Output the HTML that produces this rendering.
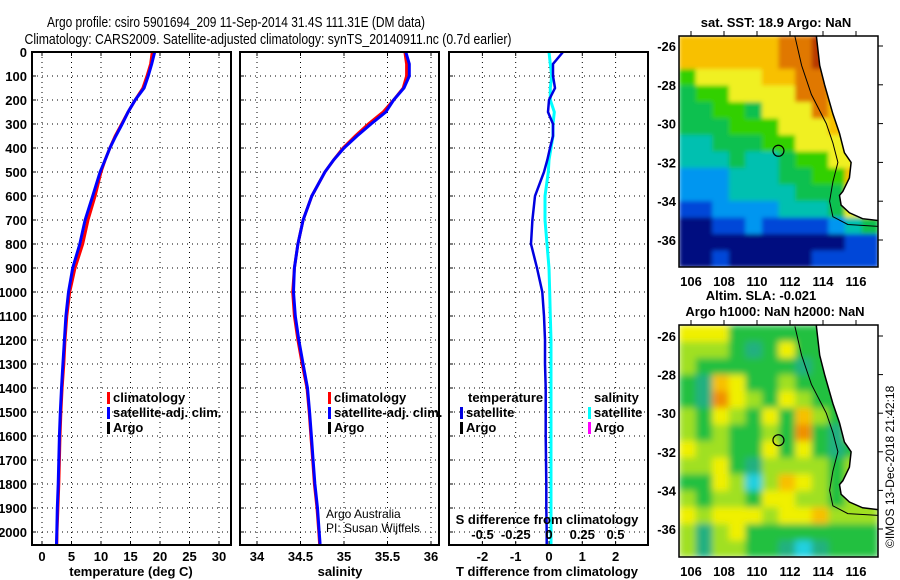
<!DOCTYPE html>
<html><head><meta charset="utf-8"><style>
html,body{margin:0;padding:0;background:#fff;}
svg{display:block;font-family:"Liberation Sans",sans-serif;}
.b{font-weight:bold;font-size:13px;}
</style></head><body>
<svg id="s" width="900" height="580" viewBox="0 0 900 580">
<rect width="900" height="580" fill="#fff"/>
<text x="236" y="27" text-anchor="middle" font-size="15" textLength="378" lengthAdjust="spacingAndGlyphs">Argo profile: csiro 5901694_209 11-Sep-2014 31.4S 111.31E (DM data)</text>
<text x="268" y="44" text-anchor="middle" font-size="15" textLength="487" lengthAdjust="spacingAndGlyphs">Climatology: CARS2009. Satellite-adjusted climatology: synTS_20140911.nc (0.7d earlier)</text>
<g id="g"></g>
</svg>
<script>
// ---- data ----
const depths   = [0,50,100,150,200,250,300,350,400,450,500,600,700,800,900,1000,1100,1200,1300,1400,1500,1600,1700,1800,1900,2000,2050];
const tempClim = [18.7,18.4,17.8,17.1,15.8,14.6,13.5,12.4,11.5,10.7,10.0,9.0,7.8,6.9,5.6,4.7,4.2,3.9,3.7,3.4,3.2,3.05,2.95,2.85,2.7,2.55,2.5];
const tempSat  = [19.1,18.6,18.0,17.3,15.8,14.6,13.6,12.5,11.5,10.7,9.85,8.6,7.3,6.4,5.2,4.5,4.05,3.8,3.55,3.3,3.1,2.95,2.85,2.75,2.6,2.5,2.45];
const salClim  = [35.70,35.72,35.72,35.68,35.57,35.45,35.28,35.13,34.99,34.88,34.78,34.63,34.53,34.47,34.43,34.41,34.43,34.47,34.52,34.575,34.60,34.62,34.64,34.66,34.69,34.71,34.72];
const salSat   = [35.71,35.75,35.75,35.69,35.57,35.48,35.31,35.15,35.00,34.88,34.78,34.63,34.53,34.47,34.43,34.42,34.44,34.48,34.53,34.58,34.605,34.625,34.645,34.665,34.695,34.715,34.725];
const tDiff    = [0.42,0.12,0.12,0.18,0.0,-0.03,0.12,0.12,0.03,-0.05,-0.15,-0.42,-0.5,-0.54,-0.36,-0.2,-0.15,-0.12,-0.12,-0.1,-0.1,-0.1,-0.09,-0.08,-0.08,-0.07,-0.07];
const sDiff    = [0.0,0.01,0.02,0.01,0.01,0.04,0.03,0.03,0.015,0.0,-0.005,-0.03,-0.03,-0.015,0.0,0.005,0.01,0.015,0.015,0.015,0.015,0.015,0.015,0.015,0.015,0.015,0.015];
const depthTicks = [0,100,200,300,400,500,600,700,800,900,1000,1100,1200,1300,1400,1500,1600,1700,1800,1900,2000];
const tempTicks = [0,5,10,15,20,25,30];
const salTicks = [34,34.5,35,35.5,36];
const salTickLabels = ["34","34.5","35","35.5","36"];
const tdTicks = [-2,-1,0,1,2];
const sdTicks = [-0.5,-0.25,0,0.25,0.5];
const sdTickLabels = ["-0.5","-0.25","0","0.25","0.5"];
const lonTicks = [106,108,110,112,114,116];
const latTicks = [-26,-28,-30,-32,-34,-36];
// SST map grid (class 0..9, -1 land) rows north->south
const sstGrid = [
[7,7,7,7,7,7,8,8,9,-1,-1,-1],
[7,7,7,7,7,7,8,8,9,-1,-1,-1],
[5,6,6,6,6,7,7,8,8,7,-1,-1],
[4,5,5,6,6,6,6,8,8,7,-1,-1],
[4,4,5,5,4,6,6,6,8,7,-1,-1],
[4,4,4,5,5,5,6,6,6,7,7,-1],
[3,3,4,4,4,5,5,6,6,6,7,-1],
[3,3,3,4,3,3,4,5,5,6,6,-1],
[2,2,2,3,3,3,4,4,5,5,7,-1],
[2,2,2,3,3,3,3,4,4,4,6,-1],
[1,1,2,2,2,2,3,3,3,4,6,-1],
[0,0,1,1,2,1,1,1,1,2,3,4],
[0,0,0,0,0,0,0,0,0,0,1,1],
[0,0,1,0,0,0,0,0,1,1,1,1]];
const slaGrid = [
[4,4,4,2,2,2,2,2,2,-1,-1,-1],
[3,3,3,2,1,2,4,2,2,-1,-1,-1],
[3,2,2,2,2,2,2,1,2,2,-1,-1],
[2,1,5,4,2,2,3,2,2,2,-1,-1],
[2,1,6,4,3,2,4,3,2,2,-1,-1],
[3,2,4,3,2,4,2,5,3,2,3,-1],
[3,2,3,2,2,3,2,6,2,1,3,-1],
[4,3,3,2,2,4,2,4,2,1,2,-1],
[3,3,4,2,1,3,3,3,3,2,3,-1],
[2,2,4,3,0,3,5,4,3,2,3,-1],
[3,2,3,3,2,4,4,3,3,2,3,-1],
[4,3,4,4,4,3,4,4,5,3,3,3],
[3,1,3,4,2,2,2,2,2,2,2,2],
[3,1,3,3,2,2,1,0,1,2,2,2]];
const coastLon = [113.6,113.8,114.1,114.6,115.0,115.3,115.7,115.6,115.2,115.0,115.1,115.6,116.4,117.4];
const coastLat = [-25.5,-27,-28,-29.5,-30.5,-31.5,-32.0,-32.8,-33.5,-33.7,-34.2,-34.6,-34.9,-35.0];
const isoLon = [112.3,112.7,113.3,114.2,114.6,114.9,114.6,114.4,114.6,115.5,117.4];
const isoLat = [-25.5,-27,-28.5,-30,-31,-32,-33,-34,-34.8,-35.2,-35.3];
const argoLon = 111.3, argoLat = -31.4;

const sstColors = ["#000c80","#0046d8","#0096f0","#00c0b0","#10c050","#30d000","#f0f020","#f8c000","#e07800","#b83800"];
const slaColors = ["#20d0e0","#20b080","#20c040","#a0e020","#f0f000","#f8c000","#f09000"];

const NS="http://www.w3.org/2000/svg";
const G=document.getElementById('g');
function mk(tag,attrs,parent){const e=document.createElementNS(NS,tag);for(const k in attrs)e.setAttribute(k,attrs[k]);(parent||G).appendChild(e);return e;}
function txt(x,y,s,attrs,parent){const e=mk('text',Object.assign({x:x,y:y},attrs||{}),parent);e.textContent=s;return e;}

const yD = d => 52 + d*0.24;
const PT=52, PB=545;
const xT = t => 42 + 5.9*t;
const xS = s => 257 + 87*(s-34);
const xTD = v => 549 + 33.3*v;
const xSD = v => 549 + 133*v;

function panel(x0,x1,name){
  const g=mk('g',{});
  
  
  return g;
}
function hgrid(g,x0,x1){
  depthTicks.forEach(d=>{
    const l=mk('line',{x1:x0,x2:x1,y1:yD(d),y2:yD(d),stroke:'#000','stroke-width':1,'stroke-dasharray':'1,4'},g);
    
    
  });
}
function vgrid(g,xs){
  xs.forEach(x=>{
    const l=mk('line',{x1:x,x2:x,y1:PT,y2:PB,stroke:'#000','stroke-width':1,'stroke-dasharray':'1,4'},g);
    
    
    mk('line',{x1:x,x2:x,y1:PT,y2:PT+4,stroke:'#000'},g);
    mk('line',{x1:x,x2:x,y1:PB,y2:PB-4,stroke:'#000'},g);
  });
}
function frame(g,x0,x1){
  const r=mk('rect',{x:x0,y:PT,width:x1-x0,height:PB-PT,fill:'none',stroke:'#000','stroke-width':2},g);
  
  
}
function line(g,xs,color,name,w){
  const pts=xs.map((v,i)=>v.toFixed(1)+','+yD(depths[i]).toFixed(1)).join(' ');
  const p=mk('polyline',{points:pts,fill:'none',stroke:color,'stroke-width':w||3,'stroke-linejoin':'miter'},g);
  
  
}
function legend(g,x,y,items){
  items.forEach((it,i)=>{
    const yy=y+i*15;
    mk('rect',{x:x,y:yy-10,width:3,height:12,fill:it[1]},g);
    const t=txt(x+6,yy,it[0],{class:'b'},g);
    
    
  });
}

// Panel 1 temperature
const p1=panel(32,231,'temperature-panel');
hgrid(p1,32,231); vgrid(p1,tempTicks.map(xT));
line(p1,tempClim.map(xT),'#f00','temp-climatology-line');
line(p1,tempSat.map(xT),'#00f','temp-satellite-line');
frame(p1,32,231);
depthTicks.forEach(d=>{const t=txt(27,yD(d)+5,String(d),{class:'b','text-anchor':'end'},p1);
  
  mk('line',{x1:32,x2:36,y1:yD(d),y2:yD(d),stroke:'#000'},p1);});
tempTicks.forEach(v=>{const t=txt(xT(v),561,String(v),{class:'b','text-anchor':'middle'},p1);
  });
let at=txt(131,576,'temperature (deg C)',{class:'b','text-anchor':'middle'},p1);

legend(p1,107,402,[['climatology','#f00'],['satellite-adj. clim.','#00f'],['Argo','#000']]);

// Panel 2 salinity
const p2=panel(240,439,'salinity-panel');
hgrid(p2,240,439); vgrid(p2,salTicks.map(xS));
line(p2,salClim.map(xS),'#f00','sal-climatology-line');
line(p2,salSat.map(xS),'#00f','sal-satellite-line');
frame(p2,240,439);
depthTicks.forEach(d=>{mk('line',{x1:240,x2:244,y1:yD(d),y2:yD(d),stroke:'#000'},p2);});
salTicks.forEach((v,i)=>{const t=txt(xS(v),561,salTickLabels[i],{class:'b','text-anchor':'middle'},p2);
  });
at=txt(340,576,'salinity',{class:'b','text-anchor':'middle'},p2);

legend(p2,328,402,[['climatology','#f00'],['satellite-adj. clim.','#00f'],['Argo','#000']]);
at=txt(326,518,'Argo Australia',{'font-size':12},p2);
at=txt(326,532,'PI: Susan Wijffels',{'font-size':12},p2);

// Panel 3 differences
const p3=panel(449,648,'difference-panel');
hgrid(p3,449,648); vgrid(p3,tdTicks.map(xTD));
line(p3,sDiff.map(xSD),'#00ffff','sal-diff-satellite-line');
line(p3,tDiff.map(xTD),'#0000e0','temp-diff-satellite-line',2.5);
frame(p3,449,648);
depthTicks.forEach(d=>{mk('line',{x1:449,x2:453,y1:yD(d),y2:yD(d),stroke:'#000'},p3);});
tdTicks.forEach(v=>{const t=txt(xTD(v),561,String(v),{class:'b','text-anchor':'middle'},p3);
  });
sdTicks.forEach((v,i)=>{const t=txt(xSD(v),539,sdTickLabels[i],{class:'b','text-anchor':'middle'},p3);
  });
at=txt(547,524,'S difference from climatology',{class:'b','text-anchor':'middle'},p3);

at=txt(547,576,'T difference from climatology',{class:'b','text-anchor':'middle'},p3);

at=txt(468,402,'temperature',{class:'b'},p3);
legend(p3,460,417,[['satellite','#0000e0'],['Argo','#000']]);
at=txt(594,402,'salinity',{class:'b'},p3);
legend(p3,588,417,[['satellite','#00ffff'],['Argo','#ff00ff']]);

// Maps
function map(name,top,bot,latTop,latBot,grid,colors,titleLines,blur){
  const x0=679,x1=878;
  const lonX = lon => 691 + (lon-106)*16.5;
  const latY = lat => latTop + (lat - (-26))*(latBot-latTop)/(-10);
  const g=mk('g',{});
  
  
  const cp='clip-'+name;
  const cl=mk('clipPath',{id:cp},g);
  mk('rect',{x:x0,y:top,width:x1-x0,height:bot-top},cl);
  const gi=mk('g',{'clip-path':'url(#'+cp+')'},g);
  mk('rect',{x:x0,y:top,width:x1-x0,height:bot-top,fill:'#fff'},gi);
  let cellsG=gi;
  if(blur){
    const fid='blur-'+name;
    const f=mk('filter',{id:fid,filterUnits:'userSpaceOnUse',x:x0,y:top,width:x1-x0,height:bot-top},g);
    mk('feGaussianBlur',{stdDeviation:blur,edgeMode:'duplicate'},f);
    cellsG=mk('g',{filter:'url(#'+fid+')'},gi);
  }
  const nr=grid.length,nc=grid[0].length,cw=(x1-x0)/nc,ch=(bot-top)/nr;
  grid.forEach((row,r)=>row.forEach((v,c)=>{
    const col = v<0 ? colors[row[c-1]>=0?row[c-1]:2] : colors[v];
    const rc=mk('rect',{x:(x0+c*cw).toFixed(1),y:(top+r*ch).toFixed(1),width:(cw+0.6).toFixed(1),height:(ch+0.6).toFixed(1),fill:col},cellsG);
    
    
  }));
  const cpts=coastLon.map((lo,i)=>lonX(lo).toFixed(1)+','+latY(coastLat[i]).toFixed(1));
  cpts.push(lonX(118)+','+latY(-35)); cpts.push(lonX(118)+','+(top-5)); cpts.push(lonX(coastLon[0])+','+(top-5));
  const land=mk('polygon',{points:cpts.join(' '),fill:'#fff',stroke:'#000','stroke-width':1.5},gi);
  
  const ipts=isoLon.map((lo,i)=>lonX(lo).toFixed(1)+','+latY(isoLat[i]).toFixed(1)).join(' ');
  const iso=mk('polyline',{points:ipts,fill:'none',stroke:'#000','stroke-width':1},gi);
  
  const c=mk('circle',{cx:lonX(argoLon),cy:latY(argoLat),r:5.5,fill:'none',stroke:'#000','stroke-width':1.2},g);
  
  const fr=mk('rect',{x:x0,y:top,width:x1-x0,height:bot-top,fill:'none',stroke:'#000','stroke-width':1.5},g);
  
  latTicks.forEach(la=>{const y=latY(la);
    mk('line',{x1:x1,x2:x1+5,y1:y,y2:y,stroke:'#000'},g);
    const t=txt(676,y+5,String(la),{class:'b','text-anchor':'end'},g);
    });
  lonTicks.forEach(lo=>{const x=lonX(lo);
    mk('line',{x1:x,x2:x,y1:top,y2:top-5,stroke:'#000'},g);
    const t=txt(x,bot+19,String(lo),{class:'b','text-anchor':'middle'},g);
    });
  titleLines.forEach(tl=>{const t=txt(tl[0],tl[1],tl[2],{class:'b','text-anchor':'middle'},g);
    });
}
map('sst-map',36,267,46,240,sstGrid,sstColors,[[776,27,'sat. SST: 18.9 Argo: NaN']],2);
map('sla-map',325,557,336,529,slaGrid,slaColors,[[761,300,'Altim. SLA: -0.021'],[775,316,'Argo h1000: NaN h2000: NaN']],3.5);
at=txt(0,0,'©IMOS 13-Dec-2018 21:42:18',{'font-size':12,transform:'translate(894,548) rotate(-90)'});

</script>
</body></html>
